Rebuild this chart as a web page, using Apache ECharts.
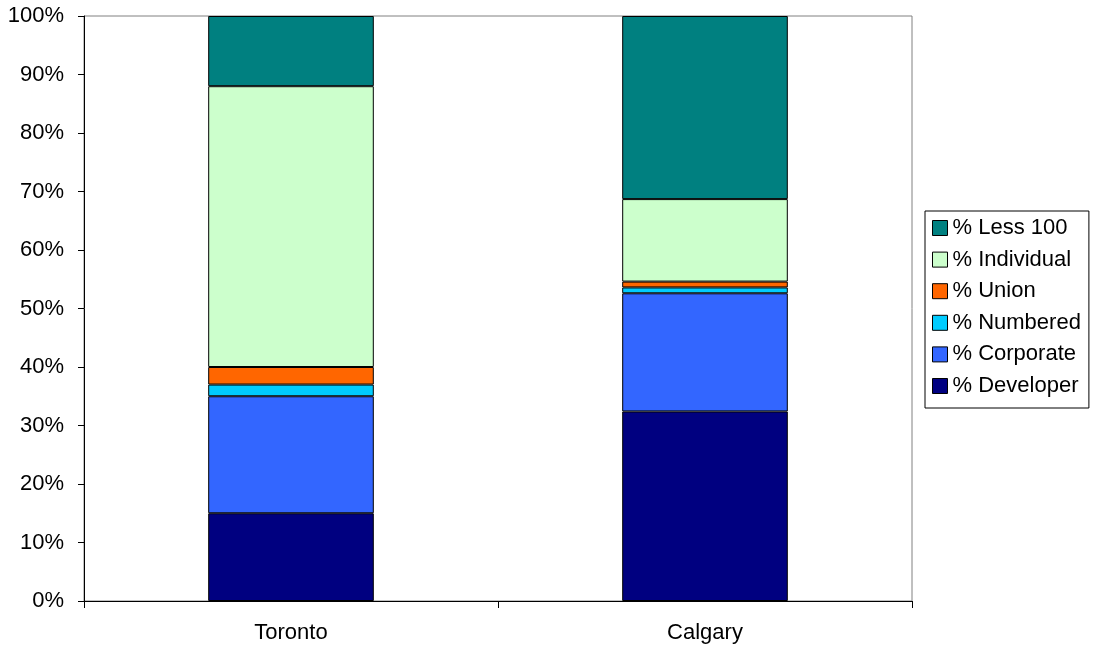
<!DOCTYPE html>
<html>
<head>
<meta charset="utf-8">
<script src="https://cdn.jsdelivr.net/npm/echarts@6/dist/echarts.min.js"></script>
<style>
  html, body { margin: 0; padding: 0; background: #fff; }
  #chart { width: 1095px; height: 650px; }
</style>
</head>
<body>
<div id="chart"></div>
<script>
var cities = ["Toronto", "Calgary"];
var yTicks = ["0%", "10%", "20%", "30%", "40%", "50%", "60%", "70%", "80%", "90%", "100%"];
// shares in percent, bottom to top
var developer = [15, 32.4];
var corporate = [20, 20.2];
var numbered = [2, 1.0];
var union = [3, 1.0];
var individual = [48, 14.1];
var less100 = [12, 31.3];

var seriesNames = ["% Developer", "% Corporate", "% Numbered", "% Union", "% Individual", "% Less 100"];
var seriesData = [developer, corporate, numbered, union, individual, less100];
var colors = ["#000080", "#3366FF", "#00CCFF", "#FF6600", "#CCFFCC", "#008080"];

var chart = echarts.init(document.getElementById("chart"));
var font = "Liberation Sans, Arial, sans-serif";

var series = seriesNames.map(function (name, i) {
  return {
    name: name,
    type: "bar",
    stack: "total",
    barWidth: "40%",
    data: seriesData[i],
    itemStyle: { color: colors[i], borderColor: "#000", borderWidth: 1 }
  };
});

chart.setOption({
  animation: false,
  textStyle: { fontFamily: font },
  grid: {
    left: 84, right: 183, top: 16, bottom: 49,
    show: true, borderColor: "#808080", borderWidth: 1
  },
  legend: {
    orient: "vertical",
    left: 925,
    top: 211,
    data: seriesNames.slice().reverse(),
    backgroundColor: "#fff",
    borderColor: "#000",
    borderWidth: 1,
    borderRadius: 0,
    padding: [6, 8, 11, 7],
    itemGap: 9.6,
    itemWidth: 15,
    itemHeight: 15,
    icon: "rect",
    itemStyle: { borderColor: "#000", borderWidth: 1 },
    textStyle: { fontSize: 22, color: "#000", fontFamily: font }
  },
  xAxis: {
    type: "category",
    data: cities,
    axisLine: { lineStyle: { color: "#000", width: 1 } },
    axisTick: { show: true, length: 7, lineStyle: { color: "#000" } },
    axisLabel: { fontSize: 22, color: "#000", margin: 21, fontFamily: font }
  },
  yAxis: {
    type: "value",
    min: 0,
    max: 100,
    interval: 10,
    axisLine: { show: true, lineStyle: { color: "#000", width: 1 } },
    axisTick: { show: true, length: 6, lineStyle: { color: "#000" } },
    splitLine: { show: false },
    axisLabel: {
      fontSize: 22,
      color: "#000",
      margin: 20,
      fontFamily: font,
      formatter: function (v) { return yTicks[Math.round(v / 10)]; }
    }
  },
  series: series
});
</script>
</body>
</html>
